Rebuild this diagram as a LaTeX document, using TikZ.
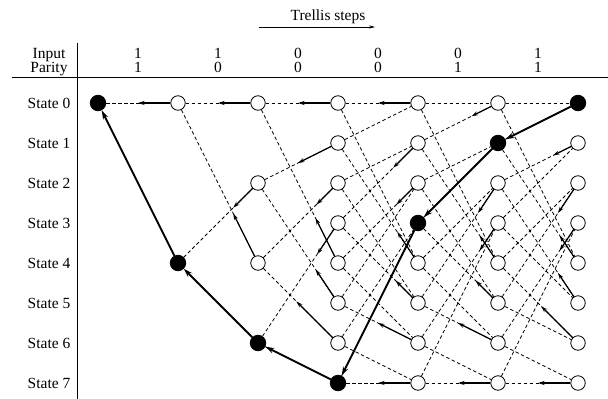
\documentclass[tikz,border=0pt]{standalone}
\usepackage{fontspec}
\setmainfont{Liberation Serif}
\usetikzlibrary{arrows.meta,calc}
\begin{document}
\begin{tikzpicture}[x=1pt,y=-1pt,
  lbl/.style={font=\fontsize{15.5}{18}\selectfont, inner sep=0pt, anchor=base},
  st/.style={circle, draw, fill=white, minimum size=14.5pt, inner sep=0pt, line width=0.8pt},
  stf/.style={circle, draw, fill=black, minimum size=15.5pt, inner sep=0pt, line width=0.8pt},
  trel/.style={dash pattern=on 3.5pt off 2.5pt, line width=0.75pt},
  surv/.style={line width=1.25pt, -{Stealth[length=6.5pt,width=4pt]}},
  boldpath/.style={line width=1.9pt, -{Stealth[length=9pt,width=5.5pt]}},
  rule/.style={line width=0.9pt}]
\useasboundingbox (0,0) rectangle (608,399);
% header
\node[lbl] (title) at (328,20) {Trellis steps};
\coordinate (ta) at (259,27);
\coordinate (tb) at (375,27);
\draw[line width=0.6pt, -{Stealth[length=6pt,width=3pt]}] (ta) -- (tb);
\node[lbl] (lin) at (49,58) {Input};
\node[lbl] (lpar) at (49,72) {Parity};
\foreach \i/\x/\u/\p in {1/138/1/1, 2/218/1/0, 3/298/0/0, 4/378/0/0, 5/458/0/1, 6/538/1/1} {
  \node[lbl] (in\i) at (\x,58) {\u};
  \node[lbl] (pa\i) at (\x,72) {\p};
}
\coordinate (h1) at (12,77);
\coordinate (h2) at (608,77);
\draw[rule] (h1) -- (h2);
\coordinate (v1) at (77,43);
\coordinate (v2) at (77,399);
\draw[rule] (v1) -- (v2);
\foreach \s in {0,...,7} {
  \node[lbl] (lab\s) at (49,{108+40*\s}) {State \s};
}
% nodes
\node[stf] (n0-0) at (98,103) {};
\node[st] (n1-0) at (178,103) {};
\node[stf] (n1-4) at (178,263) {};
\foreach \s in {0,2,4} \node[st] (n2-\s) at (258,{103+40*\s}) {};
\node[stf] (n2-6) at (258,343) {};
\foreach \s in {0,...,6} \node[st] (n3-\s) at (338,{103+40*\s}) {};
\node[stf] (n3-7) at (338,383) {};
\foreach \s in {0,1,2,4,5,6,7} \node[st] (n4-\s) at (418,{103+40*\s}) {};
\node[stf] (n4-3) at (418,223) {};
\foreach \s in {0,2,3,4,5,6,7} \node[st] (n5-\s) at (498,{103+40*\s}) {};
\node[stf] (n5-1) at (498,143) {};
\foreach \s in {1,...,7} \node[st] (n6-\s) at (578,{103+40*\s}) {};
\node[stf] (n6-0) at (578,103) {};
% dashed trellis branches
\draw[trel] (n0-0) -- (n1-0);
\draw[trel] (n1-0) -- (n2-0);
\draw[trel] (n1-0) -- (n2-4);
\draw[trel] (n1-4) -- (n2-2);
\foreach \s in {0,2,4,6} {
  \pgfmathtruncatemacro\a{div(\s,2)}
  \pgfmathtruncatemacro\b{\a+4}
  \draw[trel] (n2-\s) -- (n3-\a);
  \draw[trel] (n2-\s) -- (n3-\b);
}
\foreach \c in {3,4,5} {
  \pgfmathtruncatemacro\cn{\c+1}
  \foreach \s in {0,...,7} {
    \pgfmathtruncatemacro\a{div(\s,2)}
    \pgfmathtruncatemacro\b{\a+4}
    \draw[trel] (n\c-\s) -- (n\cn-\a);
    \draw[trel] (n\c-\s) -- (n\cn-\b);
  }
}
% survivor pointers
\foreach \c/\s/\p/\f in {
  1/0/0/0.5,
  2/0/0/0.5, 2/2/4/0.31, 2/4/0/0.31,
  3/0/0/0.5, 3/1/2/0.5, 3/2/4/0.27, 3/3/6/0.26, 3/4/0/0.28, 3/5/2/0.28, 3/6/4/0.52,
  4/0/0/0.5, 4/1/3/0.31, 4/2/4/0.27, 4/4/1/0.26, 4/5/3/0.28, 4/6/5/0.5, 4/7/7/0.5,
  5/0/1/0.33, 5/2/5/0.25, 5/3/6/0.23, 5/4/1/0.23, 5/5/3/0.28, 5/6/5/0.5, 5/7/7/0.5,
  6/1/2/0.31, 6/2/5/0.25, 6/3/6/0.23, 6/4/1/0.23, 6/5/2/0.25, 6/6/4/0.46, 6/7/7/0.5} {
  \pgfmathtruncatemacro\pc{\c-1}
  \draw[surv] (n\c-\s) -- ($(n\c-\s)!\f!(n\pc-\p)$);
}
% traceback path
\draw[boldpath] (n1-4) -- (n0-0);
\draw[boldpath] (n2-6) -- (n1-4);
\draw[boldpath] (n3-7) -- (n2-6);
\draw[boldpath] (n4-3) -- (n3-7);
\draw[boldpath] (n5-1) -- (n4-3);
\draw[boldpath] (n6-0) -- (n5-1);
\end{tikzpicture}
\end{document}
